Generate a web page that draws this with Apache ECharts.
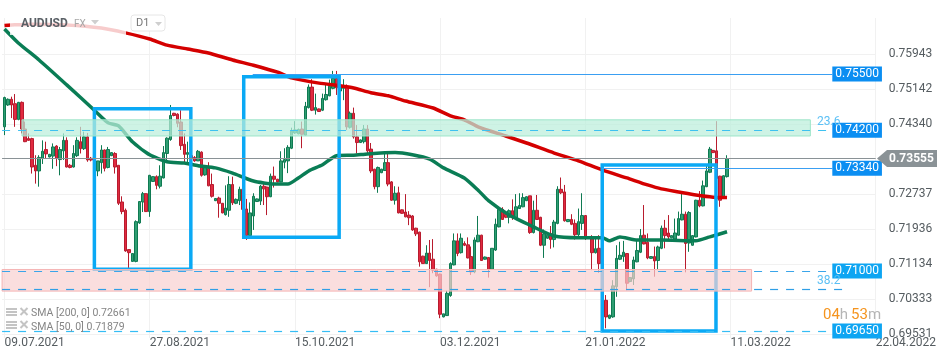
<!DOCTYPE html>
<html><head><meta charset="utf-8">
<style>html,body{margin:0;padding:0;background:#fff}#c{width:950px;height:360px}</style>
<script src="https://cdn.jsdelivr.net/npm/echarts@6/dist/echarts.min.js"></script>
</head><body><div id="c"></div>
<script>
const dateLabels=['09.07.2021','27.08.2021','15.10.2021','03.12.2021','21.01.2022','11.03.2022','22.04.2022'];
const dateTickBars=[0,42,84,126,168,210,252];
const priceTicks=[0.69531,0.70333,0.71134,0.71936,0.72737,0.74340,0.75142,0.75943];
const lastPrice=0.73555;
// open, close, low, high per daily bar
const ohlc=[
[.7428,.7495,.7409,.7497],[.7478,.7491,.7476,.7493],[.7491,.7478,.7448,.7497],[.7481,.7445,.7428,.7503],[.7445,.7484,.7443,.7485],
[.7484,.7423,.7413,.7486],[.7423,.7394,.7393,.7440],[.7401,.7397,.7396,.7413],[.7401,.7336,.7321,.7403],[.7340,.7327,.7298,.7363],
[.7327,.7358,.7291,.7363],[.7356,.7372,.7343,.7397],[.7376,.7366,.7356,.7394],[.7359,.7365,.7358,.7366],[.7361,.7382,.7332,.7390],
[.7384,.7356,.7338,.7386],[.7353,.7376,.7317,.7382],[.7373,.7397,.7352,.7413],[.7397,.7336,.7335,.7404],[.7340,.7335,.7333,.7343],
[.7336,.7367,.7335,.7386],[.7362,.7397,.7359,.7404],[.7394,.7378,.7367,.7428],[.7378,.7405,.7375,.7417],[.7405,.7352,.7348,.7414],
[.7356,.7352,.7349,.7359],[.7356,.7348,.7327,.7357],[.7327,.7350,.7315,.7350],[.7346,.7375,.7321,.7386],[.7375,.7333,.7326,.7376],
[.7335,.7376,.7333,.7382],[.7362,.7369,.7361,.7370],[.7367,.7336,.7321,.7370],[.7340,.7253,.7249,.7340],[.7256,.7234,.7228,.7269],
[.7237,.7144,.7142,.7241],[.7147,.7140,.7104,.7147],[.7120,.7138,.7119,.7138],[.7120,.7211,.7118,.7214],[.7208,.7257,.7206,.7258],
[.7256,.7275,.7233,.7279],[.7275,.7234,.7233,.7276],[.7234,.7317,.7222,.7318],[.7303,.7314,.7302,.7315],[.7314,.7294,.7285,.7317],
[.7292,.7315,.7287,.7340],[.7311,.7369,.7310,.7384],[.7367,.7402,.7350,.7404],[.7399,.7454,.7396,.7478],[.7459,.7454,.7452,.7460],
[.7457,.7436,.7427,.7459],[.7439,.7385,.7375,.7466],[.7388,.7365,.7346,.7413],[.7365,.7369,.7347,.7394],[.7362,.7356,.7354,.7364],
[.7358,.7350,.7348,.7361],[.7350,.7372,.7350,.7375],[.7370,.7317,.7314,.7372],[.7318,.7335,.7316,.7336],[.7333,.7293,.7292,.7347],
[.7296,.7269,.7266,.7321],[.7259,.7264,.7258,.7265],[.7265,.7253,.7220,.7268],[.7253,.7231,.7230,.7253],[.7227,.7242,.7225,.7294],
[.7237,.7296,.7222,.7315],[.7296,.7254,.7249,.7314],[.7253,.7262,.7251,.7264],[.7259,.7285,.7249,.7291],[.7285,.7239,.7235,.7290],
[.7240,.7179,.7169,.7263],[.7179,.7231,.7177,.7255],[.7224,.7269,.7192,.7276],[.7257,.7263,.7256,.7264],[.7258,.7292,.7249,.7295],
[.7292,.7286,.7249,.7302],[.7290,.7268,.7226,.7291],[.7268,.7315,.7267,.7321],[.7315,.7308,.7289,.7337],[.7308,.7302,.7301,.7309],
[.7302,.7350,.7301,.7372],[.7347,.7353,.7333,.7379],[.7350,.7381,.7322,.7386],[.7379,.7418,.7377,.7426],[.7414,.7421,.7412,.7441],
[.7412,.7422,.7411,.7424],[.7423,.7411,.7379,.7440],[.7409,.7475,.7408,.7485],[.7472,.7519,.7470,.7525],[.7519,.7466,.7464,.7537],
[.7466,.7472,.7456,.7504],[.7469,.7463,.7462,.7470],[.7466,.7493,.7464,.7504],[.7490,.7502,.7488,.7527],[.7499,.7521,.7498,.7536],
[.7516,.7539,.7514,.7556],[.7539,.7517,.7501,.7556],[.7510,.7520,.7505,.7530],[.7516,.7522,.7489,.7537],[.7520,.7428,.7421,.7525],
[.7427,.7459,.7424,.7463],[.7459,.7405,.7401,.7472],[.7405,.7392,.7367,.7432],[.7392,.7398,.7391,.7399],[.7394,.7423,.7390,.7432],
[.7423,.7373,.7368,.7432],[.7377,.7327,.7322,.7391],[.7331,.7291,.7285,.7332],[.7291,.7335,.7277,.7337],[.7323,.7331,.7322,.7332],
[.7328,.7346,.7327,.7369],[.7346,.7297,.7292,.7367],[.7302,.7260,.7259,.7304],[.7260,.7276,.7250,.7292],[.7277,.7231,.7230,.7291],
[.7238,.7230,.7229,.7239],[.7233,.7222,.7221,.7274],[.7226,.7220,.7203,.7235],[.7224,.7192,.7190,.7226],[.7196,.7183,.7178,.7197],
[.7187,.7119,.7108,.7188],[.7132,.7115,.7114,.7133],[.7115,.7139,.7114,.7157],[.7139,.7122,.7061,.7169],[.7125,.7100,.7093,.7171],
[.7102,.7087,.7085,.7103],[.7091,.6999,.6990,.7092],[.6993,.7000,.6992,.7000],[.6996,.7047,.6995,.7053],[.7042,.7115,.7039,.7118],
[.7112,.7167,.7111,.7184],[.7167,.7138,.7132,.7184],[.7140,.7173,.7138,.7184],[.7161,.7157,.7155,.7166],[.7158,.7128,.7127,.7175],
[.7131,.7096,.7089,.7154],[.7096,.7169,.7093,.7175],[.7165,.7180,.7164,.7224],[.7180,.7122,.7121,.7181],[.7125,.7130,.7124,.7131],
[.7129,.7102,.7083,.7130],[.7102,.7150,.7101,.7150],[.7146,.7205,.7144,.7218],[.7199,.7239,.7198,.7245],[.7239,.7216,.7215,.7244],
[.7228,.7221,.7219,.7235],[.7221,.7236,.7207,.7239],[.7236,.7222,.7215,.7262],[.7218,.7245,.7217,.7274],[.7241,.7248,.7240,.7276],
[.7245,.7266,.7244,.7276],[.7259,.7268,.7258,.7269],[.7270,.7186,.7183,.7270],[.7186,.7237,.7184,.7259],[.7237,.7216,.7215,.7272],
[.7221,.7157,.7155,.7222],[.7157,.7183,.7128,.7193],[.7173,.7180,.7172,.7181],[.7184,.7170,.7149,.7201],[.7170,.7210,.7152,.7215],
[.7207,.7285,.7205,.7292],[.7285,.7277,.7274,.7312],[.7279,.7213,.7211,.7295],[.7211,.7216,.7210,.7217],[.7216,.7205,.7203,.7228],
[.7207,.7181,.7170,.7216],[.7181,.7211,.7176,.7241],[.7207,.7225,.7192,.7276],[.7225,.7176,.7169,.7226],[.7173,.7177,.7172,.7178],
[.7172,.7140,.7100,.7180],[.7140,.7149,.7138,.7177],[.7150,.7115,.7094,.7180],[.7115,.7005,.7000,.7120],[.7031,.6993,.6967,.7043],
[.6990,.6997,.6988,.6998],[.6993,.7064,.6991,.7077],[.7062,.7127,.7039,.7157],[.7125,.7134,.7123,.7165],[.7131,.7141,.7119,.7167],
[.7138,.7070,.7054,.7139],[.7074,.7083,.7072,.7084],[.7080,.7123,.7066,.7131],[.7119,.7145,.7118,.7169],[.7141,.7179,.7139,.7194],
[.7180,.7160,.7159,.7249],[.7164,.7128,.7125,.7184],[.7127,.7131,.7126,.7132],[.7131,.7121,.7085,.7154],[.7122,.7153,.7100,.7156],
[.7150,.7196,.7148,.7202],[.7196,.7179,.7150,.7215],[.7185,.7176,.7171,.7226],[.7174,.7179,.7173,.7180],[.7171,.7185,.7168,.7218],
[.7180,.7218,.7179,.7234],[.7215,.7228,.7214,.7281],[.7228,.7161,.7095,.7234],[.7162,.7232,.7142,.7235],[.7157,.7179,.7156,.7180],
[.7176,.7260,.7175,.7261],[.7260,.7247,.7244,.7281],[.7247,.7293,.7246,.7305],[.7291,.7327,.7290,.7340],[.7324,.7377,.7322,.7382],
[.7374,.7369,.7368,.7375],[.7373,.7310,.7306,.7441],[.7315,.7260,.7245,.7316],[.7267,.7316,.7265,.7317],[.7314,.73555,.7312,.7363]
];
// [bar, price]
const sma200=[[0,.7660],[2,.7661],[8,.7663],[18,.7661],[28,.7654],[35,.7643],[42,.7629],[47,.7615],[53,.7606],[59,.7597],[66,.7581],[72,.7569],[79,.7553],[83,.7540],[91,.7528],[97,.7522],[101,.7517],[106,.7506],[111,.7499],[116,.7487],[124,.7471],[129,.7453],[133,.7444],[137,.7428],[145,.7407],[151,.7391],[159,.7368],[166,.7350],[173,.7329],[180,.7311],[186,.7295],[190,.7286],[195,.7279],[200,.7272],[205,.7267],[209,.72661]];
const sma50=[[0,.7652],[4,.7620],[10,.7581],[18,.7524],[26,.7466],[30,.7437],[33,.7430],[37,.7394],[42,.7364],[47,.7348],[52,.7345],[56,.7339],[61,.7334],[66,.7322],[72,.7304],[78,.7297],[82,.7297],[85,.7311],[88,.7327],[92,.7341],[96,.7362],[101,.7363],[105,.7366],[113,.7369],[118,.7364],[123,.7354],[127,.7334],[133,.7311],[137,.7283],[140,.7259],[146,.7226],[153,.7199],[159,.7178],[166,.7174],[173,.7174],[175,.7167],[178,.7176],[183,.7169],[190,.7169],[200,.7167],[204,.7176],[209,.71879]];
// annotation boxes: bar from, bar to, price high, price low
const boxes=[[26,53.9,.74694,.71019],[69.2,96.8,.75427,.7175],[172.9,205.8,.73406,.6961]];
const tealZone=[5.06,233.1,.7444,.7407];
const pinkZone=[-0.7,216.1,.71015,.7052];
const ROOT=239.45;
const chart=echarts.init(document.getElementById('c'),null,{renderer:'canvas'});
const hline=(from,to,price,color,dashed,tag,tagColor)=>[
 {coord:[from,price],lineStyle:{color,width:1.2,type:dashed?[8,8]:'solid'},
  label:tag?{show:true,position:'end',distance:0,formatter:tag,color:'#fff',fontFamily:'Roboto',fontSize:12,backgroundColor:tagColor,padding:[2,3,1,3],lineHeight:12}:{show:false}},
 {coord:[to,price]}];
const T='#0b8ef2',T2='#0ea5f2';
const hlines=[
 hline(71.8,ROOT,.7549,'#3a9ff2',false,'0.75500',T),
 hline(-0.7,ROOT,.7420,'#3ec1f0',true,'0.74200',T),
 hline(172.9,ROOT,.7333,'#3a9ff2',false,'0.73340',T),
 hline(-0.7,ROOT,.7098,'#3aa5ea',true,'0.71000',T2),
 hline(-0.7,242.4,.7056,'#2f9fe6',true,null,null),
 hline(-0.7,ROOT,.6961,'#35bdf5',true,'0.69650',T2),
 hline(-0.7,252,lastPrice,'#8a9296',false,null,null)
];
const G=100;
const txt=(x,y,text,fontSize,fill,extra)=>({type:'text',z:G,x,y,style:Object.assign({text,fontSize,fill,fontFamily:'Roboto',verticalAlign:'middle'},extra||{})});
const rect=(x,y,w,h,style)=>({type:'rect',z:G-1,shape:{x,y,width:w,height:h},style});
const tri=(x,y,w,h,fill)=>({type:'polygon',z:G,shape:{points:[[x,y],[x+w,y],[x+w/2,y+h]]},style:{fill}});
const stack=(x,y)=>[0,3,6].map(d=>rect(x,y+d,11,2,{fill:'#c4c4c4'}));
const cross=(x,y)=>[[0,0,7,7],[7,0,0,7]].map(a=>({type:'line',z:G,shape:{x1:x+a[0],y1:y+a[1],x2:x+a[2],y2:y+a[3]},style:{stroke:'#c4c4c4',lineWidth:2}}));
chart.setOption({
 animation:false,
 grid:{left:2,right:74.3,top:18,height:320,containLabel:false},
 xAxis:{type:'value',min:-0.72,max:252,
  axisLine:{show:false},
  axisTick:{show:false,customValues:dateTickBars},
  splitLine:{show:true,lineStyle:{color:'#f1f1f1',width:1}},
  axisLabel:{customValues:dateTickBars,margin:-1,align:'left',color:'#555c60',fontFamily:'Roboto',fontSize:12,
   formatter:v=>dateLabels[dateTickBars.indexOf(v)]||'',hideOverlap:false,showMinLabel:true,showMaxLabel:true}},
 yAxis:{type:'value',position:'right',min:.69447,max:.767705,
  axisLine:{show:false},
  axisTick:{show:false,customValues:priceTicks},
  splitLine:{show:true,lineStyle:{color:'#f1f1f1',width:1}},
  axisLabel:{customValues:priceTicks,margin:13,color:'#555c60',fontFamily:'Roboto',fontSize:12,formatter:v=>v.toFixed(5),hideOverlap:false,showMinLabel:true,showMaxLabel:true}},
 series:[
  {type:'candlestick',z:2,barWidth:3,encode:{x:0,y:[1,2,3,4]},data:ohlc.map((r,i)=>[i].concat(r)),
   itemStyle:{color:'#2f9e72',color0:'#e12a40',borderColor:'#0f7a52',borderColor0:'#b81c2e',borderWidth:1}},
  {type:'line',z:3,showSymbol:false,data:sma200,lineStyle:{color:'#d40000',width:3.5},smooth:0.2},
  {type:'line',z:3,showSymbol:false,data:sma50,lineStyle:{color:'#0a7d55',width:3.5},smooth:0.2},
  {type:'line',z:4,data:[],silent:true,
   markArea:{silent:true,z:4,data:boxes.map(b=>[{coord:[b[0],b[2]],itemStyle:{color:'rgba(0,0,0,0)',borderColor:'#0aa9f5',borderWidth:3.5}},{coord:[b[1],b[3]]}])}},
  {type:'line',z:5,data:[],silent:true,
   markArea:{silent:true,z:5,data:[
    [{coord:[tealZone[0],tealZone[2]],itemStyle:{color:'rgba(187,238,219,.72)',borderColor:'#9de5c9',borderWidth:1}},{coord:[tealZone[1],tealZone[3]]}],
    [{coord:[pinkZone[0],pinkZone[2]],itemStyle:{color:'rgba(248,208,208,.7)',borderColor:'#f5b5b5',borderWidth:1}},{coord:[pinkZone[1],pinkZone[3]]}]]},
   markLine:{silent:true,z:6,symbol:'none',data:hlines}}
 ],
 graphic:[]
});
const yLast=chart.convertToPixel({yAxisIndex:0},lastPrice);
chart.setOption({graphic:[
 rect(10,18,116,17,{fill:'rgba(255,255,255,.8)'}),
 txt(21,23.5,'AUDUSD',12,'#5a6066',{fontWeight:'bold'}),
 txt(74,24.5,'FX',10,'#a8a8a8'),
 tri(91,20,8,4.5,'#cfcfcf'),
 {type:'rect',z:G,shape:{x:131,y:15,width:34,height:16,r:3},style:{fill:'#fff',stroke:'#e6e6e6',lineWidth:1}},
 txt(136,23.5,'D1',11,'#777'),
 tri(155,22,7,4,'#cfcfcf'),
 ...stack(6,308),...cross(20.5,308),
 txt(31,313.5,'SMA [200, 0] 0.72661',10.5,'#858585'),
 ...stack(6,321),...cross(20.5,321),
 txt(31,327,'SMA [50, 0] 0.71879',10.5,'#858585'),
 txt(817,121.5,'23.6',12,'#5cc0f5'),
 txt(817,280.5,'38.2',12,'#5cc0f5'),
 {type:'polygon',z:G,shape:{points:[[877,yLast],[887,yLast-8.5],[937,yLast-8.5],[937,yLast+8.5],[887,yLast+8.5]]},style:{fill:'#8a9296'}},
 txt(889,yLast+.5,lastPrice.toFixed(5),12,'#fff',{fontWeight:'bold'}),
 {type:'text',z:G,x:823,y:315,style:{text:'{a|04}{b|h} {a|53}{b|m}',verticalAlign:'middle',fontFamily:'Roboto',rich:{a:{fill:'#f5941e',fontSize:15,fontFamily:'Roboto'},b:{fill:'#b5b5b5',fontSize:15,fontFamily:'Roboto'}}}}
]});
</script></body></html>
